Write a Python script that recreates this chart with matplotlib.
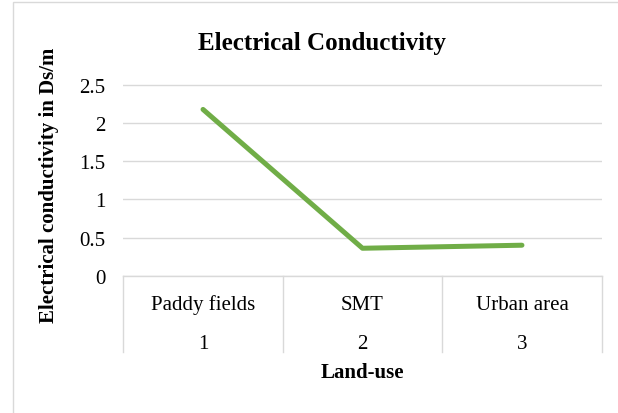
import matplotlib
matplotlib.use("Agg")
import matplotlib.pyplot as plt
import matplotlib.transforms as mtransforms
from matplotlib.patches import Rectangle

plt.rcParams['font.family'] = ['Liberation Serif', 'DejaVu Serif']

# land-use categories and mean EC values (Ds/m)
land_use = ['Paddy fields', 'SMT', 'Urban area']
codes = ['1', '2', '3']
ec = [2.18, 0.36, 0.40]
yticks = [0, 0.5, 1, 1.5, 2, 2.5]

grey = '#D9D9D9'
green = '#70AD47'

fig = plt.figure(figsize=(6.18, 4.14), dpi=100)
ax = fig.add_axes([0.1995, 0.3316, 0.7741, 0.4643])

x = list(range(1, len(ec) + 1))
ax.plot(x, ec, color=green, lw=3.6, solid_capstyle='round',
        solid_joinstyle='round', zorder=3)

ax.set_xlim(0.5, len(ec) + 0.5)
ax.set_ylim(0, 2.52)
ax.set_yticks(yticks)
ax.set_yticklabels(['0', '0.5', '1', '1.5', '2', '2.5'])
ax.set_xticks([])
ax.tick_params(axis='y', length=0, pad=13, labelsize=15)
ax.grid(axis='y', color=grey, lw=1.0)
ax.set_axisbelow(True)
for side in ['top', 'right', 'left']:
    ax.spines[side].set_visible(False)
ax.spines['bottom'].set_color(grey)
ax.spines['bottom'].set_linewidth(1.0)

# two-level category axis drawn as a small table under the plot
trans = mtransforms.blended_transform_factory(ax.transData, fig.transFigure)
y_axis = 0.3316
y_low = 0.1466
for xb in [0.5, 1.5, 2.5, 3.5]:
    ax.plot([xb, xb], [y_axis, y_low], color=grey, lw=1.0,
            transform=trans, clip_on=False)
for xi, name, code in zip(x, land_use, codes):
    ax.text(xi, 0.2512, name, transform=trans, ha='center', va='baseline',
            fontsize=15)
    ax.text(xi, 0.157, code, transform=trans, ha='center', va='baseline',
            fontsize=15)

fig.text(0.5866, 0.0877, 'Land-use', ha='center', va='baseline',
         fontsize=15, fontweight='bold')
fig.text(0.079, 0.553, 'Electrical conductivity in Ds/m', rotation=90,
         ha='center', va='center', fontsize=15, fontweight='bold')
fig.text(0.5206, 0.8792, 'Electrical Conductivity', ha='center',
         va='baseline', fontsize=18, fontweight='bold')

# chart frame
fig.patches.append(Rectangle((12.7 / 618, -0.1), 1.2, 1.1 - 3.3 / 414,
                             transform=fig.transFigure, fill=False,
                             edgecolor=grey, lw=1.0))

fig.savefig('out.png', dpi=100)
